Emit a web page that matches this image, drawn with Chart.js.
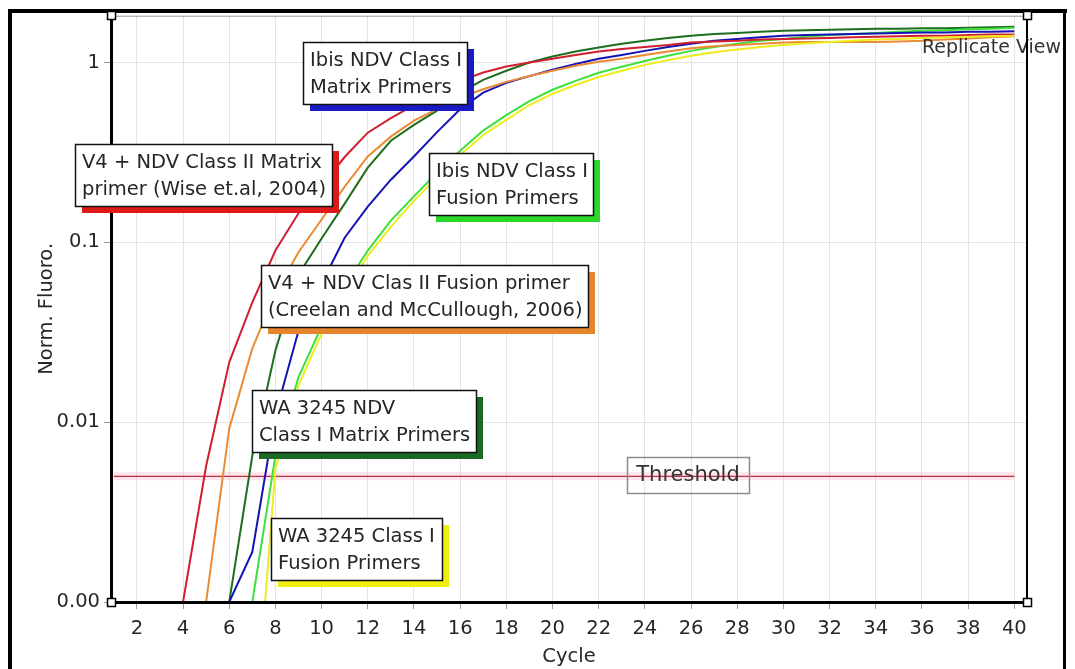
<!DOCTYPE html>
<html>
<head>
<meta charset="utf-8">
<script src="https://cdn.jsdelivr.net/npm/chart.js@4.4.1/dist/chart.umd.min.js"></script>
<style>
  html, body { margin: 0; padding: 0; background: #fff; }
  canvas { display: block; }
</style>
</head>
<body>
<canvas id="chart" width="1075" height="669"></canvas>
<script>
// Amplification cycles
const cycles = [1, 2, 3, 4, 5, 6, 7, 8, 9, 10, 11, 12, 13, 14, 15, 16, 17, 18, 19, 20,
                21, 22, 23, 24, 25, 26, 27, 28, 29, 30, 31, 32, 33, 34, 35, 36, 37, 38, 39, 40];

// Normalised fluorescence per cycle for each primer set
const wiseMatrix = [0.001, 0.001, 0.001, 0.001, 0.0057, 0.0215, 0.0463, 0.090, 0.145, 0.206,
                    0.298, 0.407, 0.49, 0.58, 0.67, 0.79, 0.88, 0.95, 1.00, 1.05,
                    1.10, 1.15, 1.19, 1.22, 1.25, 1.29, 1.31, 1.32, 1.34, 1.35,
                    1.36, 1.37, 1.38, 1.39, 1.40, 1.41, 1.41, 1.42, 1.43, 1.43];
const creelanFusion = [0.001, 0.001, 0.001, 0.001, 0.001, 0.0092, 0.0257, 0.052, 0.088, 0.134,
                       0.204, 0.30, 0.387, 0.475, 0.55, 0.64, 0.71, 0.78, 0.84, 0.90,
                       0.96, 1.01, 1.05, 1.10, 1.15, 1.20, 1.23, 1.25, 1.27, 1.29,
                       1.30, 1.30, 1.30, 1.30, 1.31, 1.32, 1.34, 1.36, 1.38, 1.40];
const waMatrix = [0.001, 0.001, 0.001, 0.001, 0.001, 0.001, 0.0065, 0.025, 0.066, 0.105,
                  0.164, 0.26, 0.367, 0.45, 0.54, 0.68, 0.80, 0.90, 1.00, 1.08,
                  1.15, 1.21, 1.27, 1.32, 1.37, 1.41, 1.44, 1.46, 1.48, 1.50,
                  1.51, 1.52, 1.53, 1.54, 1.54, 1.55, 1.55, 1.56, 1.57, 1.58];
const ibisMatrix = [0.001, 0.001, 0.001, 0.001, 0.001, 0.001, 0.0019, 0.011, 0.0322, 0.059,
                    0.106, 0.158, 0.223, 0.30, 0.41, 0.55, 0.68, 0.77, 0.84, 0.91,
                    0.98, 1.05, 1.10, 1.16, 1.22, 1.27, 1.32, 1.35, 1.38, 1.41,
                    1.42, 1.43, 1.44, 1.45, 1.46, 1.47, 1.47, 1.48, 1.48, 1.49];
const ibisFusion = [0.001, 0.001, 0.001, 0.001, 0.001, 0.001, 0.001, 0.0065, 0.0178, 0.034,
                    0.057, 0.090, 0.132, 0.18, 0.244, 0.323, 0.418, 0.51, 0.61, 0.705,
                    0.79, 0.876, 0.946, 1.02, 1.09, 1.16, 1.22, 1.27, 1.32, 1.35,
                    1.39, 1.42, 1.44, 1.46, 1.48, 1.50, 1.51, 1.53, 1.54, 1.56];
const waFusion = [0.00012, 0.00012, 0.00012, 0.00012, 0.00012, 0.00012, 0.00012, 0.0055, 0.016, 0.031,
                  0.053, 0.084, 0.122, 0.17, 0.23, 0.305, 0.395, 0.48, 0.58, 0.67,
                  0.75, 0.83, 0.90, 0.97, 1.03, 1.09, 1.14, 1.18, 1.22, 1.25,
                  1.28, 1.30, 1.32, 1.34, 1.35, 1.37, 1.38, 1.39, 1.40, 1.41];

const thresholdValue = 0.005;
const thresholdSpan = [1, 40];

// Axis ticks
const xTickValues = [2, 4, 6, 8, 10, 12, 14, 16, 18, 20, 22, 24, 26, 28, 30, 32, 34, 36, 38, 40];
const yTickValues = [0.001, 0.01, 0.1, 1];
const yTickLabels = ['0.00', '0.01', '0.1', '1'];

const FONT = 'DejaVu Sans';
const TEXT = '#262626';

function series(values) {
  return values.map((v, i) => ({ x: cycles[i], y: v }));
}

// Text call-outs, anchored by their top-left corner in (cycle, value) space
const callouts = [
  { lines: ['Ibis NDV Class I', 'Matrix Primers'], cycle: 9.2, value: 1.30, w: 163, shadow: '#1a1ac4' },
  { lines: ['V4 + NDV Class II Matrix', 'primer (Wise et.al, 2004)'], cycle: -0.69, value: 0.3535, w: 250, shadow: '#dc1a1a' },
  { lines: ['Ibis NDV Class I', 'Fusion Primers'], cycle: 14.67, value: 0.315, w: 162, shadow: '#2ad82a' },
  { lines: ['V4 + NDV Clas II Fusion primer', '(Creelan and McCullough, 2006)'], cycle: 7.38, value: 0.0752, w: 320, shadow: '#e6842c' },
  { lines: ['WA 3245 NDV', 'Class I Matrix Primers'], cycle: 6.99, value: 0.0150, w: 216, shadow: '#1b6a24' },
  { lines: ['WA 3245 Class I', 'Fusion Primers'], cycle: 7.81, value: 0.00292, w: 171, shadow: '#eeee10' }
];
const thresholdLabel = { text: 'Threshold', cycle: 23.21, value: 0.00637, w: 122, h: 36 };

const calloutPlugin = {
  id: 'callouts',
  afterDraw(chart) {
    const { ctx, scales: { x, y } } = chart;
    ctx.save();
    ctx.font = '19.5px "' + FONT + '"';
    ctx.textBaseline = 'middle';
    ctx.textAlign = 'left';
    callouts.forEach(c => {
      const left = Math.round(x.getPixelForValue(c.cycle));
      const top = Math.round(y.getPixelForValue(c.value));
      const textW = Math.max(...c.lines.map(t => ctx.measureText(t).width));
      const w = Math.max(c.w, Math.ceil(textW + 12));
      const h = 62;
      ctx.fillStyle = c.shadow;
      ctx.fillRect(left + 7, top + 7, w, h);
      ctx.fillStyle = '#fff';
      ctx.fillRect(left, top, w, h);
      ctx.strokeStyle = '#111';
      ctx.lineWidth = 1.5;
      ctx.strokeRect(left + 0.5, top + 0.5, w, h);
      ctx.fillStyle = TEXT;
      c.lines.forEach((t, i) => ctx.fillText(t, left + 7, top + 19 + i * 27));
    });

    // threshold caption
    const tl = Math.round(x.getPixelForValue(thresholdLabel.cycle));
    const tt = Math.round(y.getPixelForValue(thresholdLabel.value));
    ctx.strokeStyle = '#8c8c8c';
    ctx.lineWidth = 1.5;
    ctx.strokeRect(tl + 0.5, tt + 0.5, thresholdLabel.w, thresholdLabel.h);
    ctx.font = '21px "' + FONT + '"';
    ctx.textAlign = 'center';
    ctx.fillStyle = '#333';
    ctx.fillText(thresholdLabel.text, tl + thresholdLabel.w / 2, tt + thresholdLabel.h / 2 + 1);

    // view caption in the top-right corner
    ctx.font = '19px "' + FONT + '"';
    ctx.textAlign = 'right';
    ctx.fillStyle = '#333';
    ctx.fillText('Replicate View', 1061, 48);
    ctx.restore();
  }
};

const framePlugin = {
  id: 'frame',
  beforeDraw(chart) {
    const { ctx, width, height } = chart;
    ctx.save();
    ctx.fillStyle = '#fff';
    ctx.fillRect(0, 0, width, height);
    ctx.restore();
  },
  afterDraw(chart) {
    const { ctx, chartArea: a } = chart;
    ctx.save();
    // top and right edges of the plot area
    ctx.strokeStyle = '#9a9a9a';
    ctx.lineWidth = 1;
    ctx.beginPath();
    ctx.moveTo(a.left, a.top + 0.5);
    ctx.lineTo(a.right, a.top + 0.5);
    ctx.stroke();
    ctx.strokeStyle = '#000';
    ctx.lineWidth = 2;
    ctx.beginPath();
    ctx.moveTo(a.right, a.top);
    ctx.lineTo(a.right, a.bottom);
    ctx.stroke();
    // window border
    ctx.fillStyle = '#000';
    ctx.fillRect(8, 9, 1059, 4);
    ctx.fillRect(8, 9, 4, 660);
    ctx.fillRect(1063, 9, 3, 660);
    // corner handles
    const s = 9;
    [[a.left, a.top], [a.left, a.bottom], [a.right, a.bottom], [a.right, a.top]].forEach(([px, py]) => {
      ctx.fillStyle = '#fff';
      ctx.fillRect(Math.round(px - s / 2), Math.round(py - s / 2), s, s);
      ctx.strokeStyle = '#000';
      ctx.lineWidth = 1.5;
      ctx.strokeRect(Math.round(px - s / 2) + 0.5, Math.round(py - s / 2) + 0.5, s - 1, s - 1);
    });
    ctx.restore();
  }
};

Chart.defaults.font.family = FONT;
Chart.defaults.font.size = 19.5;
Chart.defaults.color = TEXT;

const lineSet = (label, values, color) => ({
  label, data: series(values), borderColor: color, backgroundColor: color,
  borderWidth: 2, pointRadius: 0, tension: 0, fill: false
});

new Chart(document.getElementById('chart').getContext('2d'), {
  type: 'line',
  data: {
    datasets: [
      lineSet('WA 3245 Class I Fusion Primers', waFusion, '#ecec1e'),
      lineSet('V4 + NDV Class II Matrix primer (Wise et.al, 2004)', wiseMatrix, '#d01f2e'),
      lineSet('V4 + NDV Clas II Fusion primer (Creelan and McCullough, 2006)', creelanFusion, '#eb8a35'),
      lineSet('Ibis NDV Class I Matrix Primers', ibisMatrix, '#1414b4'),
      lineSet('Ibis NDV Class I Fusion Primers', ibisFusion, '#3ee03e'),
      lineSet('WA 3245 NDV Class I Matrix Primers', waMatrix, '#1f6e1f'),
      {
        label: 'Threshold halo',
        data: thresholdSpan.map(c => ({ x: c, y: thresholdValue })),
        borderColor: 'rgba(255, 120, 150, 0.2)', borderWidth: 8, pointRadius: 0
      },
      {
        label: 'Threshold',
        data: thresholdSpan.map(c => ({ x: c, y: thresholdValue })),
        borderColor: '#a82438', borderWidth: 1.2, pointRadius: 0
      }
    ]
  },
  options: {
    responsive: false,
    animation: false,
    devicePixelRatio: 1,
    layout: { padding: { left: 0, right: 48, top: 15, bottom: 0 } },
    plugins: { legend: { display: false }, tooltip: { enabled: false } },
    scales: {
      x: {
        type: 'linear',
        min: 0.88,
        max: 40.55,
        afterBuildTicks: s => { s.ticks = xTickValues.map(v => ({ value: v })); },
        afterFit: s => { s.height = 67; },
        grid: { color: '#e4e4e4', tickColor: '#9a9a9a', tickLength: 7, lineWidth: 1 },
        border: { color: '#000', width: 3, z: 1 },
        ticks: { color: TEXT, padding: 8, maxRotation: 0, autoSkip: false, callback: v => String(v) },
        title: { display: true, text: 'Cycle', color: TEXT, padding: { top: 0, bottom: 0 } }
      },
      y: {
        type: 'logarithmic',
        min: 0.001,
        max: 1.82,
        afterBuildTicks: s => { s.ticks = yTickValues.map(v => ({ value: v })); },
        afterFit: s => { s.width = 111; },
        grid: { color: '#e4e4e4', tickColor: '#9a9a9a', tickLength: 7, lineWidth: 1 },
        border: { color: '#000', width: 3, z: 1 },
        ticks: { color: TEXT, padding: 4, autoSkip: false,
                 callback: v => yTickLabels[yTickValues.indexOf(v)] },
        title: { display: true, text: 'Norm. Fluoro.', color: TEXT, padding: { top: 35, bottom: 0 } }
      }
    }
  },
  plugins: [calloutPlugin, framePlugin]
});
</script>
</body>
</html>
